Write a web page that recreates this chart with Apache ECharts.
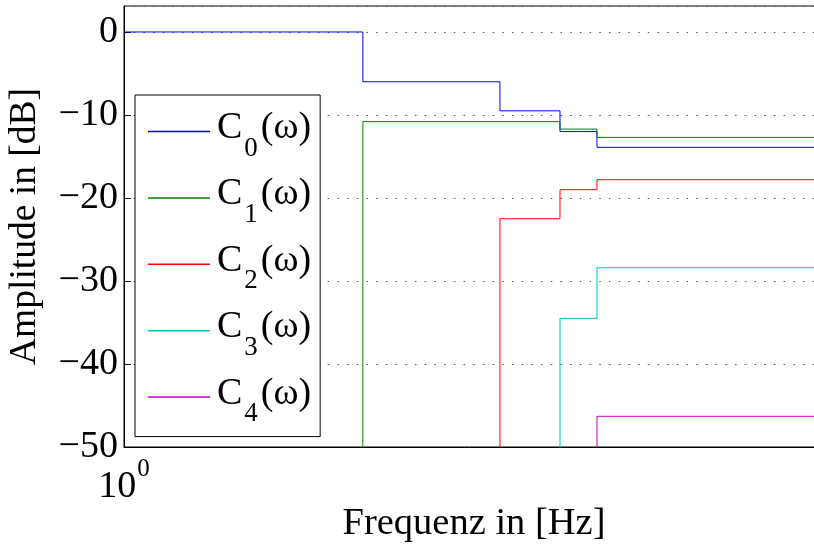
<!DOCTYPE html>
<html>
<head>
<meta charset="utf-8">
<script src="https://cdn.jsdelivr.net/npm/echarts@6/dist/echarts.min.js"></script>
<style>html,body{margin:0;padding:0;background:#fff}#c{width:814px;height:544px}</style>
</head>
<body>
<div id="c"></div>
<script>
// Frequencies (log axis) where the step changes
const fC0 = [1, 2.194, 3.444, 4.196, 4.739, 10];
const C0  = [0, -6.0, -9.5, -12.0, -13.9, -13.9];
const fC1 = [1, 2.194, 4.196, 4.739, 10];
const C1  = [-60, -10.8, -11.7, -12.7, -12.7];
const fC2 = [1, 3.444, 4.196, 4.739, 10];
const C2  = [-60, -22.5, -19.0, -17.8, -17.8];
const fC3 = [1, 4.196, 4.739, 10];
const C3  = [-60, -34.5, -28.4, -28.4];
const fC4 = [1, 4.739, 10];
const C4  = [-60, -46.3, -46.3];
const names = ['C0(ω)', 'C1(ω)', 'C2(ω)', 'C3(ω)', 'C4(ω)'];
const colors = ['#0000ff', '#007f00', '#ff0000', '#00bfbf', '#bf00bf'];
const yTicks = [-50, -40, -30, -20, -10, 0];

const FONT = 'Liberation Serif';
const xs = [fC0, fC1, fC2, fC3, fC4];
const ys = [C0, C1, C2, C3, C4];

const series = names.map((n, i) => ({
  name: n,
  type: 'line',
  step: 'end',
  symbol: 'none',
  showSymbol: false,
  clip: true,
  color: colors[i],
  lineStyle: { width: 1, color: colors[i] },
  data: xs[i].map((x, k) => [x, ys[i][k]])
}));

const chart = echarts.init(document.getElementById('c'), null, { renderer: 'canvas' });
chart.setOption({
  animation: false,
  backgroundColor: '#fff',
  grid: { left: 124, top: 6, right: -10, bottom: 97, outerBoundsMode: 'none', containLabel: false,
          show: true, borderColor: '#000', borderWidth: 1, backgroundColor: 'transparent' },
  xAxis: {
    type: 'log', logBase: 10, min: 1, max: 10,
    name: 'Frequenz in [Hz]', nameLocation: 'middle', nameGap: 57, nameMoveOverlap: false,
    nameTextStyle: { fontFamily: FONT, fontSize: 38.5, color: '#000' },
    axisLine: { show: true, onZero: false, lineStyle: { color: '#000', width: 1 } },
    axisTick: { show: false },
    minorTick: { show: false },
    splitLine: { show: false },
    axisLabel: {
      margin: 21,
      formatter: v => (Math.abs(v - 1) < 1e-9 ? '{a|10}{b|0}' : ''),
      rich: {
        a: { fontFamily: FONT, fontSize: 38, color: '#000', verticalAlign: 'bottom', lineHeight: 38 },
        b: { fontFamily: FONT, fontSize: 25, color: '#000', verticalAlign: 'bottom', lineHeight: 25, padding: [0, 0, 24, 1] }
      }
    }
  },
  yAxis: {
    type: 'value', min: -50, max: 3.13, interval: 10,
    name: 'Amplitude in [dB]', nameLocation: 'middle', nameGap: 80, nameRotate: 90, nameMoveOverlap: false,
    nameTextStyle: { fontFamily: FONT, fontSize: 37.5, color: '#000' },
    axisLine: { show: true, onZero: false, lineStyle: { color: '#000', width: 1 } },
    axisTick: { show: true, inside: true, length: 7, lineStyle: { color: '#000' } },
    axisLabel: {
      showMaxLabel: false,
      margin: 6,
      fontFamily: FONT, fontSize: 38, color: '#000',
      formatter: v => (yTicks.indexOf(v) < 0 ? '' : (v < 0 ? '\u2212' + Math.abs(v) : String(v)))
    },
    splitLine: { show: true, lineStyle: { color: '#555', width: 1, type: [1.5, 8.2] } }
  },
  legend: {
    orient: 'vertical', left: 135, top: 95,
    padding: [6, 9, 9, 13],
    itemGap: 5.4,
    itemWidth: 62, itemHeight: 1.5,
    icon: 'rect',
    backgroundColor: '#fff', borderColor: '#000', borderWidth: 1,
    data: names,
    formatter: n => '{c|' + n.charAt(0) + '}{s|' + n.charAt(1) + '}{m|' + n.slice(2) + '}',
    textStyle: {
      rich: {
        c: { fontFamily: FONT, fontSize: 38, color: '#000', lineHeight: 36, verticalAlign: 'middle', padding: [0, 0, 7, 2] },
        m: { fontFamily: FONT, fontSize: 38, color: '#000', lineHeight: 36, verticalAlign: 'middle', padding: [0, 0, 7, 0] },
        s: { fontFamily: FONT, fontSize: 27, color: '#000', lineHeight: 36, verticalAlign: 'middle', padding: [34, 3, 0, 2] }
      }
    }
  },
  series: series
});
</script>
</body>
</html>
